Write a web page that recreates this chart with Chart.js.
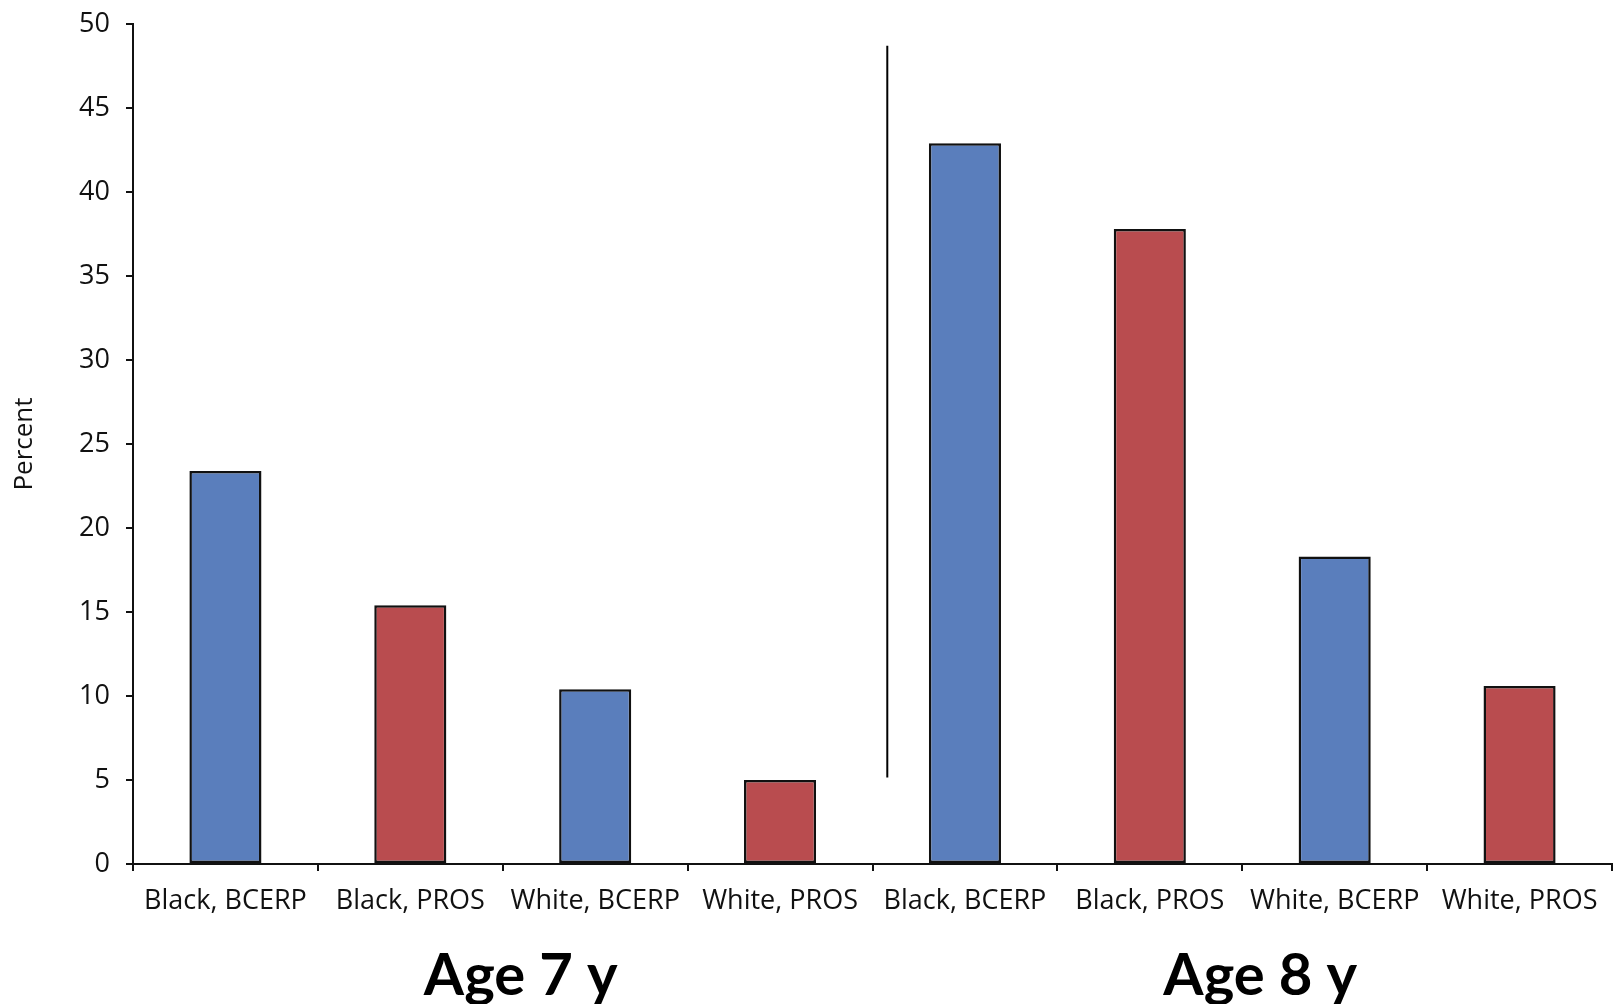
<!DOCTYPE html>
<html>
<head>
<meta charset="utf-8">
<title>Percent by group, age 7 and 8</title>
<script src="https://cdn.jsdelivr.net/npm/chart.js@4"></script>
<style>
  body { margin: 0; background: #fff; }
  #wrap { width: 1617px; height: 1004px; }
</style>
</head>
<body>
<div id="wrap"><canvas id="myChart" width="1617" height="1004"></canvas></div>
<script>
"use strict";
// Data
const categories = ["Black, BCERP", "Black, PROS", "White, BCERP", "White, PROS",
                    "Black, BCERP", "Black, PROS", "White, BCERP", "White, PROS"];
const percentValues = [23.4, 15.4, 10.4, 5.0, 42.9, 37.8, 18.3, 10.6];
const ageGroups = ["Age 7 y", "Age 8 y"];
const yTicks = [0, 5, 10, 15, 20, 25, 30, 35, 40, 45, 50];

// divider between the two age groups (category index, y from, y to)
const dividerAt = 3.58;
const dividerFrom = 5.15;
const dividerTo = 48.7;

const blue = "#5a7ebc";
const red = "#b94c4f";
const barColors = categories.map((c) => c.includes("BCERP") ? blue : red);

const dividerPlugin = {
    id: "divider",
    afterDatasetsDraw(chart) {
        const x = chart.scales.x.getPixelForValue(dividerAt);
        const y = chart.scales.y;
        const ctx = chart.ctx;
        ctx.save();
        ctx.strokeStyle = "#000";
        ctx.lineWidth = 2;
        ctx.beginPath();
        ctx.moveTo(x, y.getPixelForValue(dividerTo));
        ctx.lineTo(x, y.getPixelForValue(dividerFrom));
        ctx.stroke();
        ctx.restore();
    }
};

const dataBars = {
    labels: categories,
    datasets: [{
        label: "Percent",
        data: percentValues,
        backgroundColor: barColors,
        borderColor: "#111",
        borderWidth: 2.5,
        borderSkipped: false,
        barPercentage: 0.39,
        categoryPercentage: 1
    }]
};

// config
const config = {
    type: "bar",
    data: dataBars,
    plugins: [dividerPlugin],
    options: {
        responsive: false,
        animation: false,
        layout: { padding: { top: 24, right: 5, left: 0, bottom: 0 } },
        plugins: {
            legend: { display: false },
            tooltip: { enabled: false }
        },
        scales: {
            x: {
                position: "bottom",
                border: { color: "#111", width: 2 },
                grid: { offset: true, drawOnChartArea: false, tickLength: 7, color: "#111", lineWidth: 2 },
                ticks: {
                    autoSkip: false, maxRotation: 0, minRotation: 0, padding: 14,
                    color: "#111", font: { family: "'Open Sans'", size: 27 }
                },
                afterFit(scale) { scale.height = 59; }
            },
            x2: {
                type: "category",
                labels: ageGroups,
                position: "bottom",
                border: { display: false },
                grid: { display: false, drawTicks: false },
                ticks: {
                    padding: 18, maxRotation: 0, labelOffset: 18, color: "#000",
                    font: { family: "Lato", size: 58, weight: "bold" }
                },
                afterFit(scale) {
                    scale.height = 81;
                    scale.paddingTop = 0;
                    scale.paddingBottom = 0;
                }
            },
            y: {
                min: 0,
                max: 50,
                border: { color: "#111", width: 2 },
                grid: { drawOnChartArea: false, tickLength: 7, color: "#111", lineWidth: 2 },
                afterBuildTicks(scale) { scale.ticks = yTicks.map((v) => ({ value: v })); },
                ticks: {
                    padding: 16, color: "#111",
                    font: { family: "'Open Sans'", size: 27 }
                },
                title: {
                    display: true,
                    text: "Percent",
                    color: "#111",
                    padding: { top: 9, bottom: 0 },
                    font: { family: "'Open Sans'", size: 26 }
                },
                afterFit(scale) {
                    scale.width = 133;
                    scale.paddingTop = 0;
                    scale.paddingBottom = 0;
                }
            }
        }
    }
};

// render init block
const myChart = new Chart(document.getElementById("myChart"), config);
</script>
</body>
</html>
